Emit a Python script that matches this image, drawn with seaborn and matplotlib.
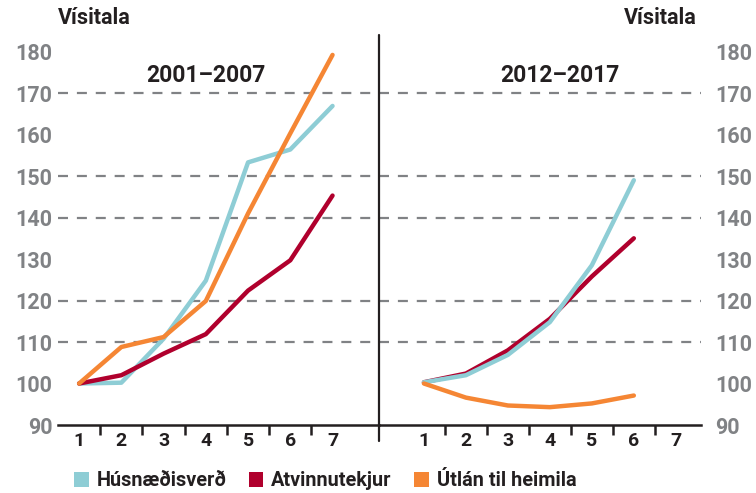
import matplotlib
matplotlib.use("Agg")
import matplotlib.pyplot as plt
from matplotlib.patches import Patch
import pandas as pd
import seaborn as sns

# data
periods_a = [1, 2, 3, 4, 5, 6, 7]
hus_a = [100, 100.2, 110.8, 124.8, 153.3, 156.4, 166.9]
atv_a = [100, 102.0, 107.2, 111.9, 122.4, 129.7, 145.3]
utl_a = [100, 108.8, 111.2, 119.9, 141.0, 160.3, 179.2]

periods_b = [1, 2, 3, 4, 5, 6]
hus_b = [100.3, 102.0, 106.9, 114.8, 128.5, 149.0]
atv_b = [100.3, 102.4, 108.0, 115.6, 125.8, 135.0]
utl_b = [100.0, 96.6, 94.7, 94.3, 95.2, 97.1]

series = ["Húsnæðisverð", "Atvinnutekjur", "Útlán til heimila"]
colors = {"Húsnæðisverð": "#8ecdd5", "Atvinnutekjur": "#b0002d", "Útlán til heimila": "#f58634"}
titles = ["2001–2007", "2012–2017"]
x_labels = ["1", "2", "3", "4", "5", "6", "7"]
y_ticks = [90, 100, 110, 120, 130, 140, 150, 160, 170, 180]
grid_lines = [110, 120, 140, 150, 170]


def long_df(periods, hus, atv, utl):
    frames = []
    for name, vals in zip(series, [hus, atv, utl]):
        frames.append(pd.DataFrame({"t": periods, "v": vals, "s": name}))
    return pd.concat(frames, ignore_index=True)


df_a = long_df(periods_a, hus_a, atv_a, utl_a)
df_b = long_df(periods_b, hus_b, atv_b, utl_b)

sns.set_theme(style="white")
plt.rcParams["font.family"] = ["Roboto", "DejaVu Sans"]
plt.rcParams["font.weight"] = "bold"

GRAY = "#808285"
DARK = "#231f20"
fig = plt.figure(figsize=(7.56, 4.93), dpi=100)
ax1 = fig.add_axes([58 / 756, 1 - 425 / 493, 321 / 756, 390 / 493])
ax2 = fig.add_axes([379 / 756, 1 - 425 / 493, 322 / 756, 390 / 493])

panels = [
    (ax1, df_a, series, (0.5, 8.1), 4.0),
    (ax2, df_b, ["Atvinnutekjur", "Húsnæðisverð", "Útlán til heimila"], (-0.07, 7.6), 4.25),
]

for i, (ax, df, order, xl, tx) in enumerate(panels):
    for g in grid_lines:
        ax.axhline(g, color=GRAY, lw=1.6, ls=(0, (4.5, 4)), zorder=0)
    sns.lineplot(data=df, x="t", y="v", hue="s", hue_order=order, palette=colors,
                 linewidth=3.2, legend=False, ax=ax, solid_capstyle="round",
                 solid_joinstyle="round")
    ax.set_xlim(*xl)
    ax.set_ylim(90, 184)
    ax.set_xlabel("")
    ax.set_ylabel("")
    ax.set_xticks(periods_a)
    ax.set_xticklabels(x_labels, fontsize=14, fontweight="bold", color=DARK)
    ax.set_xticks([1.5, 2.5, 3.5, 4.5, 5.5, 6.5], minor=True)
    ax.tick_params(axis="x", which="major", length=0, pad=5)
    ax.tick_params(axis="x", which="minor", length=7, width=1.8, color=DARK,
                   direction="out", bottom=True)
    ax.set_yticks(y_ticks)
    ax.set_yticklabels([str(v) for v in y_ticks], fontsize=15.5, fontweight="bold", color=GRAY)
    for s in ["top", "right", "left"]:
        ax.spines[s].set_visible(False)
    ax.spines["bottom"].set_color(DARK)
    ax.spines["bottom"].set_linewidth(1.8)
    ax.text(tx, 174.3, titles[i], ha="center", va="center", fontsize=16.5,
            fontweight="bold", color=DARK)
    ax.set_facecolor("none")

ax1.tick_params(axis="y", length=0, pad=4, left=True, labelleft=True)
ax2.yaxis.tick_right()
ax2.tick_params(axis="y", length=0, pad=10, right=True, labelright=True)

# divider between the two periods
ax2.axvline(ax2.get_xlim()[0], ymin=-0.04, ymax=1, color=DARK, lw=1.6, clip_on=False)

fig.text(58 / 756, 1 - 18 / 493, "Vísitala", ha="left", va="center", fontsize=15.5,
         fontweight="bold", color=DARK)
fig.text(697 / 756, 1 - 18 / 493, "Vísitala", ha="right", va="center", fontsize=15.5,
         fontweight="bold", color=DARK)

handles = [Patch(facecolor=colors[s], edgecolor="none", label=s) for s in series]
fig.legend(handles=handles, loc="center", bbox_to_anchor=(0.43, 0.025), ncol=3,
           frameon=False, handlelength=0.75, handleheight=0.75, handletextpad=0.4,
           columnspacing=1.1, prop={"size": 14.3, "weight": "bold"},
           labelcolor=DARK)

fig.savefig("out.png", dpi=100)
